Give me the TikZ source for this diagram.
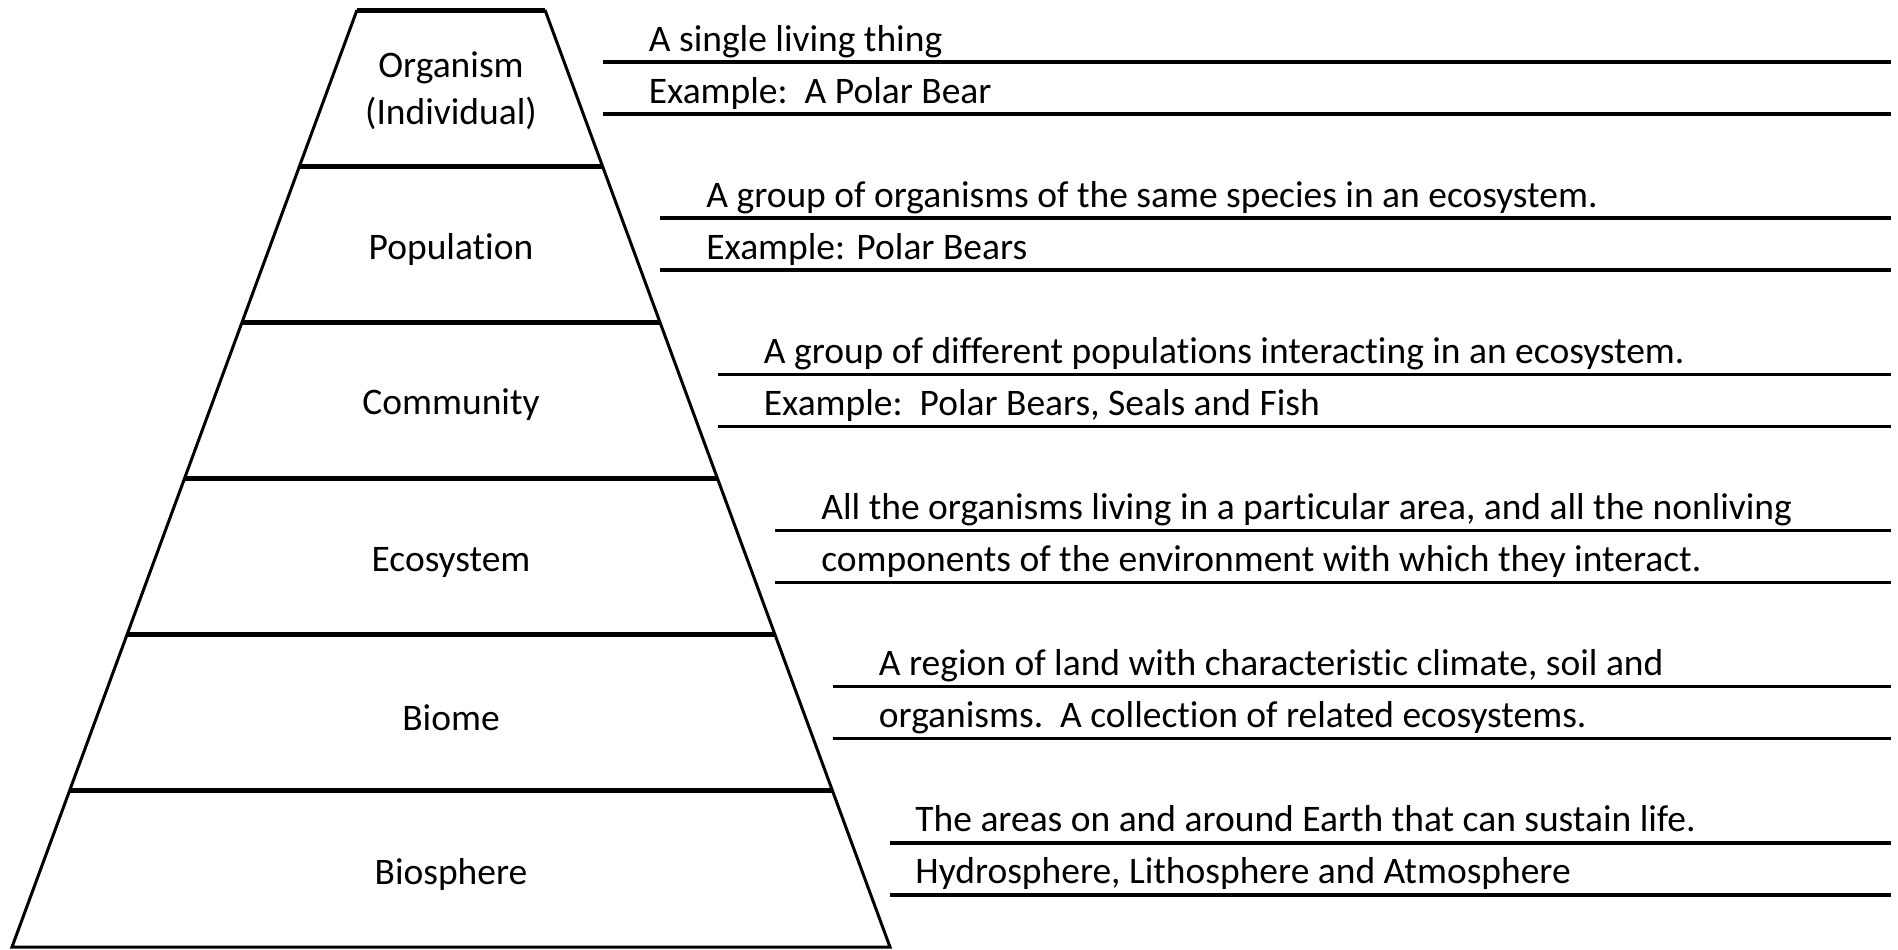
\documentclass[tikz,border=0pt]{standalone}
\usepackage{fontspec}
\setmainfont{Carlito}[RawFeature={-liga;-clig;-dlig;-calt;-hlig}]
\usetikzlibrary{calc}
\newcommand{\txtsize}{\fontsize{18.75}{23.5}\selectfont}
\tikzstyle{levelname} =[
    font=\txtsize,
    align=center,
    inner sep=0pt
    ]
\tikzstyle{deftext} =[
    font=\txtsize,
    anchor=base west,
    inner sep=0pt
    ]
\tikzstyle{tier} = [line width=2.5pt]
\tikzstyle{side} = [line width=1.5pt, line join=miter]
\tikzstyle{rule} = [line width=1.75pt]

\begin{document}
\begin{tikzpicture}[x=0.5pt,y=-0.5pt]
\useasboundingbox (0,0) rectangle (1898,949);
% corners of the pyramid
\foreach \k in {0,...,6}{
    \coordinate (L\k) at ({357-57.5*\k},{10+156.17*\k});
    \coordinate (R\k) at ({545+57.5*\k},{10+156.17*\k});
}
% ends of the writing lines
\foreach \k in {1,...,6}{
    \coordinate (Sa\k) at ({545+57.5*\k},{62+156.17*(\k-1)});
    \coordinate (Ea\k) at (1891,{62+156.17*(\k-1)});
    \coordinate (Sb\k) at ({545+57.5*\k},{114+156.17*(\k-1)});
    \coordinate (Eb\k) at (1891,{114+156.17*(\k-1)});
    \draw[rule] (Sa\k) -- (Ea\k);
    \draw[rule] (Sb\k) -- (Eb\k);
}

\draw[side] (L0) -- (L6) -- (R6) -- (R0);
\draw[tier] (L0) -- (R0);
\foreach \k in {1,...,5}{
    \draw[tier] (L\k) -- (R\k);
}

\node[levelname] (organism) at (451,91) {Organism\\(Individual)};
\node[levelname] (population) at (451,249) {Population};
\node[levelname] (community) at (451,405) {Community};
\node[levelname] (ecosystem) at (451,562) {Ecosystem};
\node[levelname] (biome) at (451,718) {Biome};
\node[levelname] (biosphere) at (451,874) {Biosphere};

\node[deftext] (organismdef) at ($(Sa1)+(46,-11)$) {A single living thing};
\node[deftext] (organismex) at ($(Sb1)+(46,-11)$) {Example:\ \ A Polar Bear};
\node[deftext] (populationdef) at ($(Sa2)+(46,-11)$) {A group of organisms of the same species in an ecosystem.};
\node[deftext] (populationex) at ($(Sb2)+(46,-11)$) {Example: Polar Bears};
\node[deftext] (communitydef) at ($(Sa3)+(46,-11)$) {A group of different populations interacting in an ecosystem.};
\node[deftext] (communityex) at ($(Sb3)+(46,-11)$) {Example:\ \ Polar Bears, Seals and Fish};
\node[deftext] (ecosystemdef) at ($(Sa4)+(46,-11)$) {All the organisms living in a particular area, and all the nonliving};
\node[deftext] (ecosystemdefb) at ($(Sb4)+(46,-11)$) {components of the environment with which they interact.};
\node[deftext] (biomedef) at ($(Sa5)+(46,-11)$) {A region of land with characteristic climate, soil and};
\node[deftext] (biomedefb) at ($(Sb5)+(46,-11)$) {organisms.\ \ A collection of related ecosystems.};
\node[deftext] (biospheredef) at ($(Sa6)+(25,-11)$) {The areas on and around Earth that can sustain life.};
\node[deftext] (biosphereex) at ($(Sb6)+(25,-11)$) {Hydrosphere, Lithosphere and Atmosphere};
\end{tikzpicture}
\end{document}
